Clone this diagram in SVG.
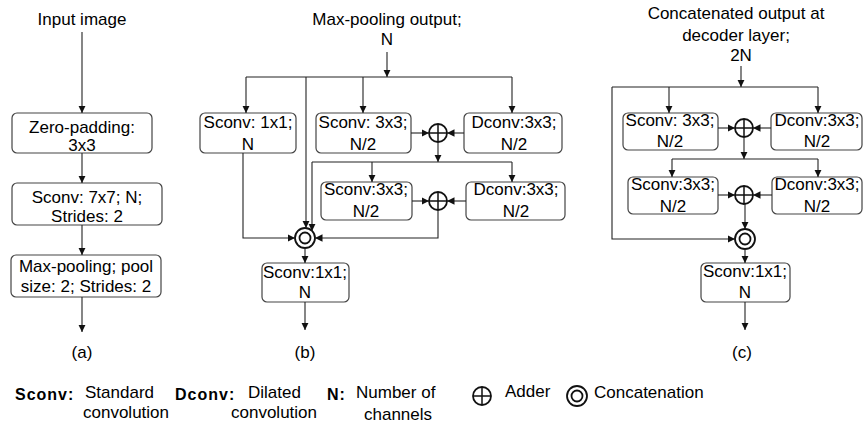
<svg xmlns="http://www.w3.org/2000/svg" width="865" height="436" viewBox="0 0 865 436">
<defs>
<style>
text{font-family:"Liberation Sans",Arial,sans-serif;font-size:17px;fill:#000;text-anchor:middle}
.box{fill:#fff;stroke:#444;stroke-width:1.2}
.ln{fill:none;stroke:#222;stroke-width:1.1}
.arr{fill:none;stroke:#222;stroke-width:1.1;marker-end:url(#ah)}
.sym{fill:#fff;stroke:#111;stroke-width:1.8}
.lb{font-weight:bold;font-size:16px;letter-spacing:1px;text-anchor:start}
.ls{text-anchor:start}
</style>
<marker id="ah" markerUnits="userSpaceOnUse" markerWidth="9" markerHeight="9" refX="7.5" refY="4" orient="auto">
<path d="M0,0.3 L7.5,4 L0,7.7 z" fill="#111"/>
</marker>
<g id="adder"><circle r="9" class="sym"/><path d="M-9,0H9M0,-9V9" stroke="#111" stroke-width="1.5"/></g>
<g id="concat"><circle r="10" class="sym"/><circle r="5.5" class="sym"/></g>
</defs>

<!-- Panel (a) -->
<g id="a-title"><text x="82" y="25">Input image</text></g>
<g id="a-zeropad"><rect class="box" x="12" y="113" width="140" height="40" rx="5"/><text x="82" y="133">Zero-padding:</text><text x="82" y="151">3x3</text></g>
<g id="a-sconv"><rect class="box" x="12" y="183" width="150" height="42" rx="5"/><text x="87" y="203">Sconv: 7x7; N;</text><text x="87" y="222">Strides: 2</text></g>
<g id="a-maxpool"><rect class="box" x="11" y="255" width="150" height="42" rx="5"/><text x="86" y="272">Max-pooling; pool</text><text x="86" y="292">size: 2; Strides: 2</text></g>
<g id="a-label"><text x="82" y="358">(a)</text></g>

<!-- Panel (b) -->
<g id="b-title"><text x="387" y="25">Max-pooling output;</text><text x="387" y="45">N</text></g>
<g id="b-s1x1"><rect class="box" x="200" y="113" width="96" height="40" rx="5"/><text x="248" y="128">Sconv: 1x1;</text><text x="248" y="150">N</text></g>
<g id="b-s3x3a"><rect class="box" x="316" y="113" width="95" height="40" rx="5"/><text x="363" y="128">Sconv: 3x3;</text><text x="363" y="150">N/2</text></g>
<g id="b-d3x3a"><rect class="box" x="464" y="113" width="98" height="40" rx="5"/><text x="514" y="128">Dconv:3x3;</text><text x="514" y="150">N/2</text></g>
<g id="b-add1"><use href="#adder" x="438" y="133"/></g>
<g id="b-s3x3b"><rect class="box" x="321" y="182" width="91" height="38" rx="5"/><text x="366" y="195">Sconv:3x3;</text><text x="366" y="217">N/2</text></g>
<g id="b-d3x3b"><rect class="box" x="466" y="182" width="99" height="38" rx="5"/><text x="516" y="195">Dconv:3x3;</text><text x="516" y="217">N/2</text></g>
<g id="b-add2"><use href="#adder" x="438" y="201"/></g>
<g id="b-cat"><use href="#concat" x="305" y="238"/></g>
<g id="b-s1x1out"><rect class="box" x="262" y="263" width="87" height="39" rx="5"/><text x="305" y="278">Sconv:1x1;</text><text x="305" y="298">N</text></g>
<g id="b-label"><text x="305" y="358">(b)</text></g>

<!-- Panel (c) -->
<g id="c-title"><text x="736" y="19">Concatenated output at</text><text x="736" y="41">decoder layer;</text><text x="741" y="61">2N</text></g>
<g id="c-s3x3a"><rect class="box" x="623" y="113" width="95" height="37" rx="5"/><text x="670" y="126">Sconv: 3x3;</text><text x="670" y="147">N/2</text></g>
<g id="c-d3x3a"><rect class="box" x="771" y="113" width="91" height="37" rx="5"/><text x="817" y="126">Dconv:3x3;</text><text x="817" y="147">N/2</text></g>
<g id="c-add1"><use href="#adder" x="744" y="128"/></g>
<g id="c-s3x3b"><rect class="box" x="628" y="177" width="90" height="37" rx="5"/><text x="673" y="190">Sconv:3x3;</text><text x="673" y="212">N/2</text></g>
<g id="c-d3x3b"><rect class="box" x="772" y="177" width="90" height="37" rx="5"/><text x="817" y="190">Dconv:3x3;</text><text x="817" y="212">N/2</text></g>
<g id="c-add2"><use href="#adder" x="744" y="195"/></g>
<g id="c-cat"><use href="#concat" x="745" y="239"/></g>
<g id="c-s1x1out"><rect class="box" x="701" y="263" width="89" height="39" rx="5"/><text x="745" y="277">Sconv:1x1;</text><text x="745" y="298">N</text></g>
<g id="c-label"><text x="742" y="358">(c)</text></g>

<!-- Connectors -->
<g id="connectors">
<path class="arr" d="M82,32V113"/>
<path class="arr" d="M82,153V183"/>
<path class="arr" d="M82,225V255"/>
<path class="arr" d="M82,297V332"/>

<path class="arr" d="M387,52V77"/>
<path class="ln" d="M246,77H512"/>
<path class="arr" d="M246,77V113"/>
<path class="arr" d="M306,77V228"/>
<path class="arr" d="M363,77V113"/>
<path class="arr" d="M512,77V113"/>
<path class="arr" d="M411,133H429"/>
<path class="arr" d="M464,133H447"/>
<path class="arr" d="M438,142V162"/>
<path class="ln" d="M312,162H512"/>
<path class="arr" d="M372,162V182"/>
<path class="arr" d="M512,162V182"/>
<path class="arr" d="M312,162V231"/>
<path class="arr" d="M412,201H429"/>
<path class="arr" d="M466,201H447"/>
<path class="arr" d="M438,210V238H315"/>
<path class="arr" d="M243,153V238H295"/>
<path class="arr" d="M305,248V263"/>
<path class="arr" d="M305,302V330"/>

<path class="arr" d="M741,66V87"/>
<path class="ln" d="M612,87H818"/>
<path class="arr" d="M669,87V113"/>
<path class="arr" d="M818,87V113"/>
<path class="arr" d="M612,87V239H735"/>
<path class="arr" d="M718,128H735"/>
<path class="arr" d="M771,128H753"/>
<path class="arr" d="M744,137V159"/>
<path class="ln" d="M672,159H818"/>
<path class="arr" d="M672,159V177"/>
<path class="arr" d="M818,159V177"/>
<path class="arr" d="M718,195H735"/>
<path class="arr" d="M772,195H753"/>
<path class="arr" d="M745,204V229"/>
<path class="arr" d="M745,249V263"/>
<path class="arr" d="M745,302V330"/>
</g>

<!-- Legend -->
<g id="legend">
<text class="lb" x="15" y="400">Sconv:</text>
<text class="ls" x="85" y="398">Standard</text>
<text class="ls" x="83" y="418">convolution</text>
<text class="lb" x="175" y="400">Dconv:</text>
<text class="ls" x="248" y="398">Dilated</text>
<text class="ls" x="231" y="418">convolution</text>
<text class="lb" x="327" y="400">N:</text>
<text class="ls" x="356" y="398">Number of</text>
<text class="ls" x="364" y="420">channels</text>
<use href="#adder" x="482" y="396"/>
<text class="ls" x="505" y="397">Adder</text>
<use href="#concat" x="577" y="396"/>
<text class="ls" x="594" y="398">Concatenation</text>
</g>
</svg>
